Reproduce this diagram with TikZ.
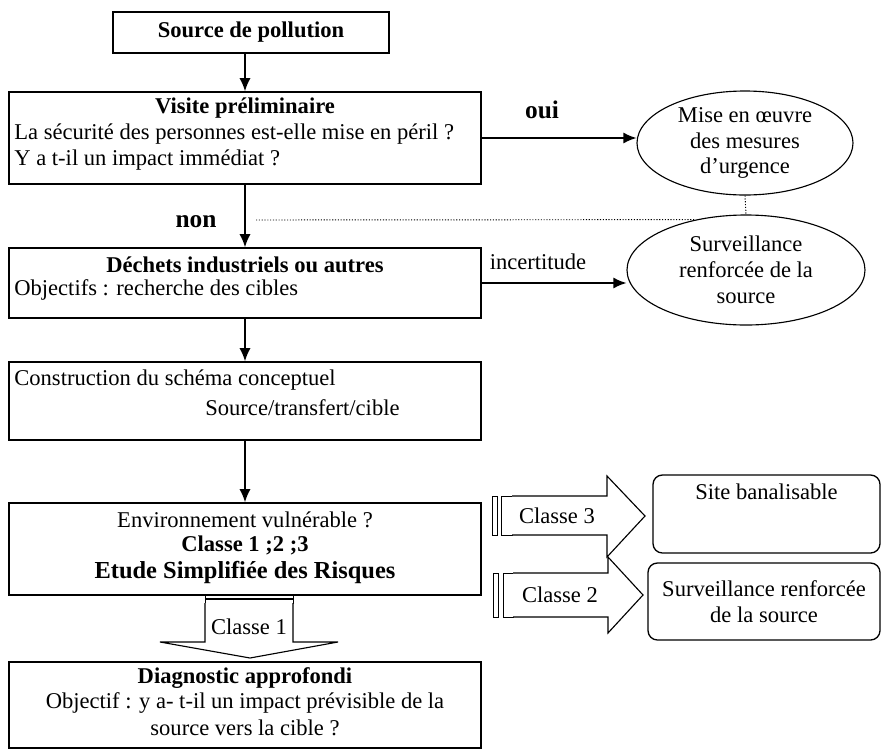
\documentclass[tikz,border=0pt]{standalone}
\usepackage{fontspec}
\setmainfont{Liberation Serif}
\usetikzlibrary{arrows.meta,shapes.geometric}
\newcommand{\pxu}{0.532pt}

\begin{document}
\begin{tikzpicture}[x=0.532pt, y=-0.532pt,
		box/.style = {draw, line width=0.8pt, inner sep=0pt},
		oval/.style = {draw, ellipse, line width=0.6pt, inner sep=0pt, align=center, font=\fontsize{12}{13.8}\selectfont},
		rbox/.style = {draw, rounded corners=5pt, line width=0.7pt, inner sep=0pt, align=center, font=\fontsize{12}{13.8}\selectfont},
		txt/.style = {inner sep=0pt, font=\fontsize{12}{13.8}\selectfont},
		bold/.style = {txt, font=\fontsize{12}{13.8}\selectfont\bfseries},
		big/.style = {txt, font=\fontsize{13.5}{16}\selectfont\bfseries},
		link/.style = {line width=0.9pt, -{Latex[length=7pt, width=6pt]}},
		fat/.style = {draw, line width=0.6pt, fill=white},
		bar/.style = {draw, line width=0.45pt, fill=white},
		hint/.style = {line width=0.5pt, dash pattern=on 0.6pt off 0.9pt}]
		\useasboundingbox (0,0) rectangle (881,751);
		\node[box, minimum width=276*\pxu, minimum height=41*\pxu] (source) at (251,32.5) {};
		\node[box, minimum width=472*\pxu, minimum height=92*\pxu] (visite) at (245,138) {};
		\node[box, minimum width=472*\pxu, minimum height=70*\pxu] (dechets) at (245,283) {};
		\node[box, minimum width=472*\pxu, minimum height=78*\pxu] (schema) at (245,401) {};
		\node[box, minimum width=472*\pxu, minimum height=92*\pxu] (etude) at (245,549) {};
		\node[box, minimum width=472*\pxu, minimum height=86*\pxu] (diagnostic) at (245,705) {};
		\node[oval, minimum width=216*\pxu, minimum height=104*\pxu] (urgence) at (745,143) {Mise en œuvre\\des mesures\\d’urgence};
		\node[oval, minimum width=238*\pxu, minimum height=110*\pxu] (surveillance) at (746,270) {Surveillance\\renforcée de la\\source};
		\node[rbox, minimum width=227*\pxu, minimum height=78*\pxu] (banal) at (766.5,514) {Site banalisable\\[10pt]};
		\node[rbox, minimum width=232*\pxu, minimum height=77*\pxu] (renfort) at (764,601.5) {Surveillance renforcée\\de la source};
		\coordinate (non) at (256,220);

		\node[bold] (tsource) at (251,32) {Source de pollution};
		\node[bold] (tvisite) at (245,108) {Visite préliminaire};
		\node[txt, anchor=west] (tperil) at (14,134) {La sécurité des personnes est-elle mise en péril ?};
		\node[txt, anchor=west] (timpact) at (14,160) {Y a t-il un impact immédiat ?};
		\node[big] (toui) at (542,110) {oui};
		\node[big] (tnon) at (196,222) {non};
		\node[bold] (tdechets) at (245,265) {Déchets industriels ou autres};
		\node[txt, anchor=west] (tcibles) at (14,290) {Objectifs : recherche des cibles};
		\node[txt] (tincert) at (538,262) {incertitude};
		\node[txt, anchor=west] (tschema) at (14,380) {Construction du schéma conceptuel};
		\node[txt, anchor=west] (ttransfert) at (205,408) {Source/transfert/cible};
		\node[txt] (tvulnerable) at (245,520) {Environnement vulnérable ?};
		\node[bold] (tclasses) at (245,545) {Classe 1 ;2 ;3};
		\node[big, font=\fontsize{13}{16}\selectfont\bfseries] (tetude) at (245,572) {Etude Simplifiée des Risques};
		\node[bold] (tdiag) at (245,678) {Diagnostic approfondi};
		\node[txt] (tobjectif) at (245,703) {Objectif : y a- t-il un impact prévisible de la};
		\node[txt] (tcible) at (245,728) {source vers la cible ?};

		\draw[link] (source.south -| visite.north) -- (visite.north);
		\draw[link] (visite.east) -- (visite.east -| urgence.west);
		\draw[link] (visite.south) -- (dechets.north);
		\draw[link] (dechets.east) -- (dechets.east -| surveillance.west);
		\draw[link] (dechets.south) -- (schema.north);
		\draw[link] (schema.south) -- (etude.north);
		\draw[hint] (urgence.south) -- (surveillance.north);
		\draw[hint] (non) -- (surveillance.135);

		\draw[bar] (205,595) rectangle (293,598);
		\draw[bar] (205,599.5) rectangle (293,603);
		\draw[fat] (205,603) -- (205,642) -- (160,642) -- (250,658) -- (338,642) -- (293,642) -- (293,603);
		\node[txt] (tclasse1) at (249,627) {Classe 1};

		\draw[bar] (492,496) rectangle (497,535);
		\draw[bar] (501,496) rectangle (512,535);
		\draw[fat] (512,496) -- (607,496) -- (607,476) -- (645,516) -- (607,557) -- (607,535) -- (512,535);
		\node[txt] (tclasse3) at (557,516) {Classe 3};

		\draw[bar] (493,573) rectangle (498,617);
		\draw[bar] (503,573) rectangle (513,617);
		\draw[fat] (513,573) -- (608,573) -- (608,557) -- (643,595) -- (608,633) -- (608,617) -- (513,617);
		\node[txt] (tclasse2) at (560,595) {Classe 2};
	\end{tikzpicture}
\end{document}
